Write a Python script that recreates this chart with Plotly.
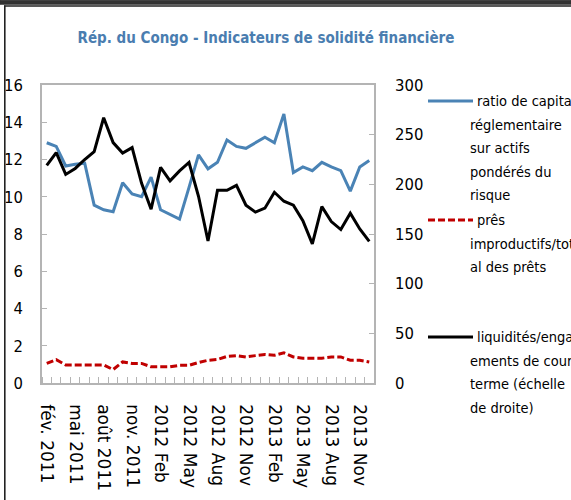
import plotly.graph_objects as go

# ---- data ----
months = ["2011-02", "2011-03", "2011-04", "2011-05", "2011-06", "2011-07", "2011-08",
          "2011-09", "2011-10", "2011-11", "2011-12", "2012-01", "2012-02", "2012-03",
          "2012-04", "2012-05", "2012-06", "2012-07", "2012-08", "2012-09", "2012-10",
          "2012-11", "2012-12", "2013-01", "2013-02", "2013-03", "2013-04", "2013-05",
          "2013-06", "2013-07", "2013-08", "2013-09", "2013-10", "2013-11", "2013-12"]

tick_labels = ["fév. 2011", "mai 2011", "août 2011", "nov. 2011", "2012 Feb", "2012 May",
               "2012 Aug", "2012 Nov", "2013 Feb", "2013 May", "2013 Aug", "2013 Nov"]

capital_ratio = [12.9, 12.7, 11.65, 11.75, 11.8, 9.55, 9.3, 9.2, 10.75, 10.15, 10.0, 11.05,
                 9.3, 9.05, 8.8, 10.5, 12.25, 11.5, 11.85, 13.05, 12.7, 12.6, 12.9, 13.2,
                 12.9, 14.45, 11.3, 11.6, 11.4, 11.85, 11.6, 11.4, 10.3, 11.6, 11.95]

npl_ratio = [1.05, 1.25, 0.97, 0.97, 0.97, 0.97, 0.97, 0.72, 1.13, 1.05, 1.05, 0.87,
             0.87, 0.87, 0.95, 0.95, 1.1, 1.22, 1.26, 1.43, 1.47, 1.4, 1.47, 1.53,
             1.49, 1.62, 1.4, 1.33, 1.33, 1.33, 1.4, 1.4, 1.22, 1.22, 1.13]

liquidity = [219, 232, 210, 216, 225, 233, 267, 242, 231.5, 237, 201, 175, 217, 203.5,
             213.5, 222, 188, 143, 194, 194, 199, 179, 172, 176, 192, 183, 179, 163.5,
             140, 177.5, 162.5, 154.5, 171, 155, 142.5]

legend_blue = ["ratio de capital", "réglementaire", "sur actifs", "pondérés du", "risque"]
legend_red = ["prês", "improductifs/tot", "al des prêts"]
legend_black = ["liquidités/engag", "ements de court", "terme (échelle", "de droite)"]

title = "Rép. du Congo - Indicateurs de solidité financière"

# ---- layout geometry ----
W, H = 571, 500
L, R, T, B = 42, 374, 85, 383


def px(x):
    return (x - L) / (R - L)


def py(y):
    return (B - y) / (B - T)


BLUE = "#4a83b5"
RED = "#c00000"
BLACK = "#000000"
AXIS = "#b4b4b4"
NARROW = "DejaVu Sans Condensed, DejaVu Sans, sans-serif"

idx = list(range(len(months)))

fig = go.Figure()
fig.add_trace(go.Scatter(x=idx, y=capital_ratio, mode="lines", name=legend_blue[0],
                         line=dict(color=BLUE, width=3), yaxis="y"))
fig.add_trace(go.Scatter(x=idx, y=npl_ratio, mode="lines", name=legend_red[0],
                         line=dict(color=RED, width=3, dash="7px,3px"), yaxis="y"))
fig.add_trace(go.Scatter(x=idx, y=liquidity, mode="lines", name=legend_black[0],
                         line=dict(color=BLACK, width=3), yaxis="y2"))

tickvals = idx[::3]

fig.update_layout(
    width=W, height=H,
    margin=dict(l=L, r=W - R, t=T, b=H - B, pad=0, autoexpand=False),
    paper_bgcolor="white", plot_bgcolor="white",
    showlegend=False,
    title=dict(text="<b>" + title + "</b>", x=266 / W, xanchor="center", xref="container",
               y=1 - 38 / H, yanchor="middle", yref="container", automargin=False,
               font=dict(family=NARROW, size=15, color="#4a7db0")),
    xaxis=dict(range=[-0.5, len(months) - 0.5], tickmode="array", tickvals=tickvals,
               ticktext=tick_labels, tickangle=90, ticks="", showgrid=False, zeroline=False,
               showline=True, linecolor=AXIS, linewidth=1.5, mirror=True, automargin=False,
               tickfont=dict(family="DejaVu Sans", size=17, color="black"),
               ticklabelstandoff=16,
               minor=dict(tickmode="linear", tick0=-0.5, dtick=1, ticks="inside",
                          ticklen=6, tickcolor=AXIS, tickwidth=1.2, showgrid=False)),
    yaxis=dict(range=[0, 16], dtick=2, ticks="inside", ticklen=5, tickcolor=AXIS,
               showgrid=False, zeroline=False, showline=True, linecolor=AXIS,
               linewidth=1.5, automargin=False,
               tickfont=dict(family=NARROW, size=16.5, color="black"),
               ticklabelstandoff=14),
    yaxis2=dict(range=[0, 300], dtick=50, overlaying="y", side="right", ticks="inside",
                ticklen=5, tickcolor=AXIS, showgrid=False, zeroline=False, showline=True,
                linecolor=AXIS, linewidth=1.5, automargin=False,
                tickfont=dict(family=NARROW, size=16.5, color="black"),
                ticklabelstandoff=16),
)

shapes = []
# outer frame
shapes.append(dict(type="rect", xref="paper", yref="paper", x0=px(0), x1=px(W), y0=py(4.2),
                   y1=py(0.2), fillcolor="#333333", line=dict(color="#333333", width=1),
                   layer="above"))
shapes.append(dict(type="line", xref="paper", yref="paper", x0=px(4), x1=px(W), y0=py(6),
                   y1=py(6), line=dict(color="#222222", width=1.6), layer="above"))
shapes.append(dict(type="line", xref="paper", yref="paper", x0=px(4.8), x1=px(4.8),
                   y0=py(5.5), y1=py(H), line=dict(color="#222222", width=1.6), layer="above"))

# legend samples
leg_items = [(legend_blue, BLUE, "solid", 101), (legend_red, RED, "7px,3px", 220),
             (legend_black, BLACK, "solid", 337)]
annotations = []
LINE_H = 23.5
for lines, col, dash, y0 in leg_items:
    shapes.append(dict(type="line", xref="paper", yref="paper", x0=px(428), x1=px(473),
                       y0=py(y0), y1=py(y0), line=dict(color=col, width=3, dash=dash)))
    for k, txt in enumerate(lines):
        xx = 476 if k == 0 else 469
        annotations.append(dict(text=txt, xref="paper", yref="paper", x=px(xx),
                                y=py(y0 + k * LINE_H), xanchor="left", yanchor="middle",
                                showarrow=False, borderpad=0,
                                font=dict(family=NARROW, size=14.5, color="black")))

fig.update_layout(shapes=shapes, annotations=annotations)
fig.write_html("out.html", config={"displayModeBar": False},
               post_script="document.body.style.margin='0';document.body.style.overflow='hidden';")
